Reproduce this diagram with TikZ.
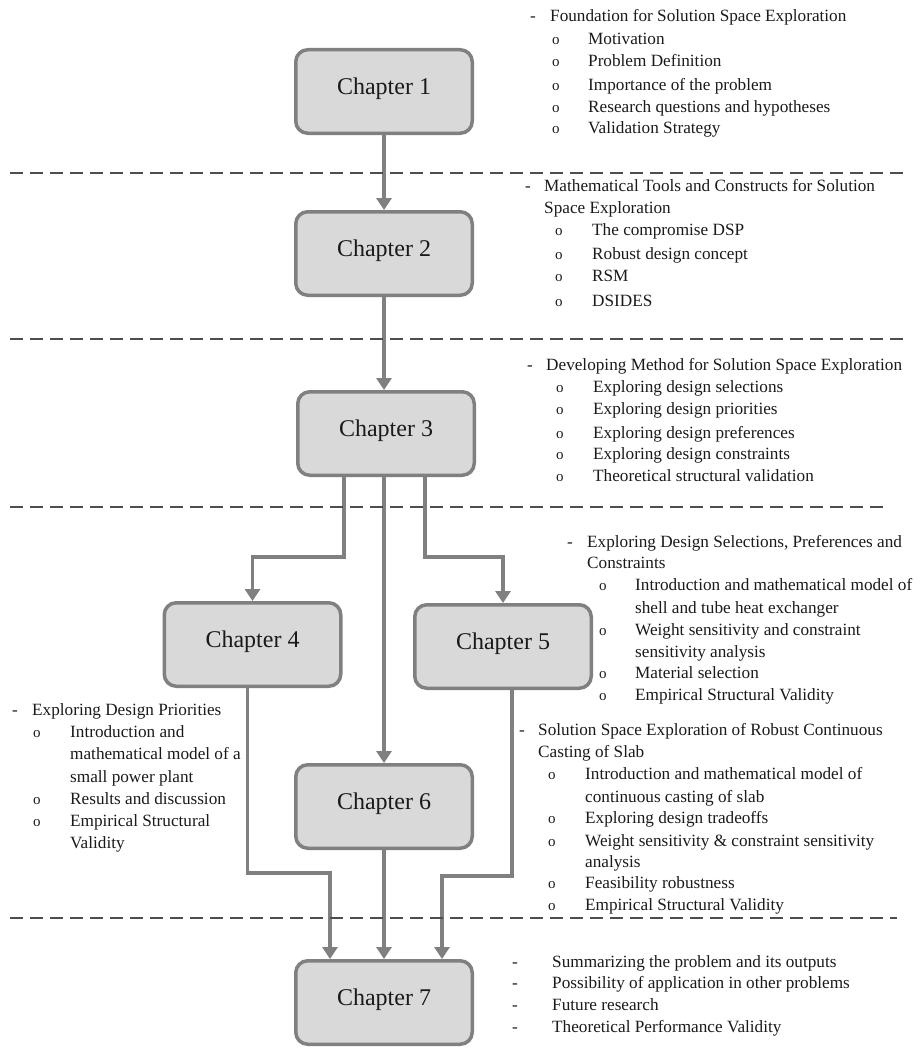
\documentclass[tikz,border=0pt]{standalone}
\usepackage{fontspec}
\setmainfont{Liberation Serif}
\usetikzlibrary{arrows.meta}
\definecolor{boxfill}{HTML}{D9D9D9}
\definecolor{boxline}{HTML}{808080}
\definecolor{wire}{HTML}{808080}
\definecolor{sep}{HTML}{4D4D4D}
\definecolor{ink}{HTML}{1A1A1A}

% one bulleted line: name, bullet x, text x, baseline y, text
\newcommand\bitem[5]{%
  \node[bulletmark] (#1o) at (#2,#4) {o};
  \node[txt] (#1) at (#3,#4) {#5};}
% one dashed heading line: name, dash x, text x, baseline y, text
\newcommand\ditem[5]{%
  \node[dashmark] (#1d) at (#2,#4) {-};
  \node[txt] (#1) at (#3,#4) {#5};}

\begin{document}
\begin{tikzpicture}[x=1pt,y=-1pt,
  chapbox/.style={draw=boxline, fill=boxfill, line width=3.5pt,
    rounded corners=12pt, minimum width=176.5pt, minimum height=83.5pt,
    inner sep=0pt, font=\fontsize{24}{28}\selectfont, text=ink,
    text height=16pt, text depth=11pt},
  flow/.style={draw=wire, line width=3.5pt,
    -{Triangle[width=15pt,length=12pt]}},
  sepline/.style={draw=sep, line width=1.4pt, dash pattern=on 13pt off 7pt},
  txt/.style={anchor=base west, inner sep=0pt,
    font=\fontsize{17.2}{22}\selectfont, text=ink},
  bulletmark/.style={anchor=base west, inner sep=0pt,
    font=\fontsize{15}{18}\selectfont, text=ink},
  dashmark/.style={anchor=base west, inner sep=0pt,
    font=\fontsize{17.2}{22}\selectfont, text=ink},
]
\useasboundingbox (0,0) rectangle (919,1057);

% chapter boxes
\node[chapbox] (c1) at (384,91.5)  {Chapter 1};
\node[chapbox] (c2) at (384,253.5) {Chapter 2};
\node[chapbox] (c3) at (386,433.5) {Chapter 3};
\node[chapbox] (c4) at (252.5,644.5) {Chapter 4};
\node[chapbox] (c5) at (503,646.5) {Chapter 5};
\node[chapbox] (c6) at (384,806.5) {Chapter 6};
\node[chapbox] (c7) at (384,1002.5) {Chapter 7};

% bend levels of the branching connectors
\coordinate (split) at (0,557);
\coordinate (joinl) at (0,873);
\coordinate (joinr) at (0,876);

% connectors
\draw[flow] (c1.south) -- (c2.north);
\draw[flow] (c2.south) -- (c3.north -| c2.south);
\draw[flow] ([xshift=-42pt]c3.south) -- ([xshift=-42pt]c3.south |- split) -| (c4.north);
\draw[flow] ([xshift=-2pt]c3.south) -- (c6.north);
\draw[flow] ([xshift=39pt]c3.south) -- ([xshift=39pt]c3.south |- split) -| (c5.north);
\draw[flow] ([xshift=-5pt]c4.south) -- ([xshift=-5pt]c4.south |- joinl) -| ([xshift=-54pt]c7.north);
\draw[flow] (c6.south) -- (c7.north);
\draw[flow] ([xshift=9pt]c5.south) -- ([xshift=9pt]c5.south |- joinr) -| ([xshift=58pt]c7.north);

% chapter 1 notes
\ditem{n1}{530}{550}{22}{Foundation for Solution Space Exploration}
\bitem{n1a}{552}{588}{44.5}{Motivation}
\bitem{n1b}{552}{588}{66.5}{Problem Definition}
\bitem{n1c}{552}{588}{90}{Importance of the problem}
\bitem{n1e}{552}{588}{112}{Research questions and hypotheses}
\bitem{n1f}{552}{588}{133.5}{Validation Strategy}

% chapter 2 notes
\ditem{n2}{525}{544}{191}{Mathematical Tools and Constructs for Solution}
\node[txt] (n2x) at (544,213) {Space Exploration};
\bitem{n2a}{555}{592}{235}{The compromise DSP}
\bitem{n2b}{555}{592}{259}{Robust design concept}
\bitem{n2c}{555}{592}{281}{RSM}
\bitem{n2e}{555}{592}{306}{DSIDES}

% chapter 3 notes
\ditem{n3}{527}{546}{370}{Developing Method for Solution Space Exploration}
\bitem{n3a}{556}{593}{392}{Exploring design selections}
\bitem{n3b}{556}{593}{414}{Exploring design priorities}
\bitem{n3c}{556}{593}{438}{Exploring design preferences}
\bitem{n3e}{556}{593}{459}{Exploring design constraints}
\bitem{n3f}{556}{593}{481}{Theoretical structural validation}

% chapter 4 notes
\ditem{n4}{12}{32}{715}{Exploring Design Priorities}
\bitem{n4a}{33}{70}{737}{Introduction and}
\node[txt] (n4ax) at (70,759) {mathematical model of a};
\node[txt] (n4ay) at (70,782) {small power plant};
\bitem{n4b}{33}{70}{804}{Results and discussion}
\bitem{n4c}{33}{70}{826}{Empirical Structural}
\node[txt] (n4cx) at (70,848) {Validity};

% chapter 5 notes
\ditem{n5}{567}{587}{547}{Exploring Design Selections, Preferences and}
\node[txt] (n5x) at (587,568) {Constraints};
\bitem{n5a}{599}{635}{590}{Introduction and mathematical model of}
\node[txt] (n5ax) at (635,613) {shell and tube heat exchanger};
\bitem{n5b}{599}{635}{635}{Weight sensitivity and constraint}
\node[txt] (n5bx) at (635,657) {sensitivity analysis};
\bitem{n5c}{599}{635}{678}{Material selection}
\bitem{n5e}{599}{635}{700}{Empirical Structural Validity}

% chapter 6 notes
\ditem{n6}{519}{538}{735}{Solution Space Exploration of Robust Continuous}
\node[txt] (n6x) at (538,757) {Casting of Slab};
\bitem{n6a}{548}{585}{779}{Introduction and mathematical model of}
\node[txt] (n6ax) at (585,802) {continuous casting of slab};
\bitem{n6b}{548}{585}{823}{Exploring design tradeoffs}
\bitem{n6c}{548}{585}{846}{Weight sensitivity \& constraint sensitivity}
\node[txt] (n6cx) at (585,867) {analysis};
\bitem{n6e}{548}{585}{888}{Feasibility robustness}
\bitem{n6f}{548}{585}{910}{Empirical Structural Validity}

% chapter 7 notes
\ditem{n7a}{512}{552}{967}{Summarizing the problem and its outputs}
\ditem{n7b}{512}{552}{988}{Possibility of application in other problems}
\ditem{n7c}{512}{552}{1010}{Future research}
\ditem{n7e}{512}{552}{1032}{Theoretical Performance Validity}

% section separators
\draw[sepline] (10,173) -- (907,173);
\draw[sepline] (10,339) -- (907,339);
\draw[sepline] (10,507) -- (889,507);
\draw[sepline] (10,918) -- (897,918);
\end{tikzpicture}
\end{document}
